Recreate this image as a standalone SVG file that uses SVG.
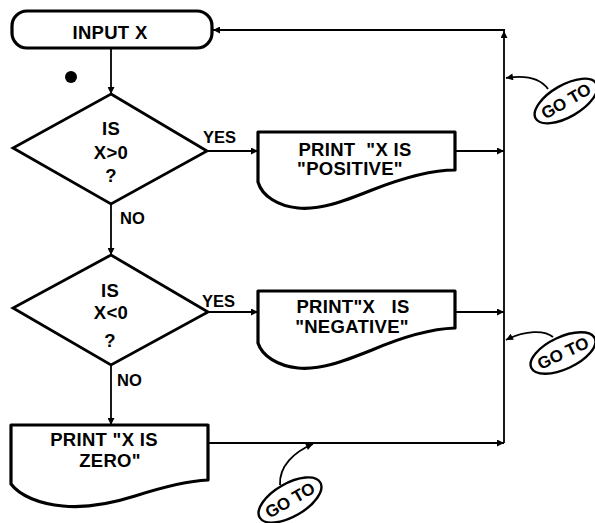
<svg xmlns="http://www.w3.org/2000/svg" width="595" height="523" viewBox="0 0 595 523">
<style>
  .shape { fill: none; stroke: #000; stroke-width: 3.2; stroke-linejoin: round; }
  .dia { fill: none; stroke: #000; stroke-width: 2.8; stroke-linejoin: miter; }
  .conn { fill: none; stroke: #000; stroke-width: 1.8; }
  .oval { fill: none; stroke: #000; stroke-width: 2.4; }
  .t { font-family: "Liberation Sans", Arial, sans-serif; font-weight: bold; font-size: 18.5px; fill: #000; text-anchor: middle; letter-spacing: 0.3px; }
  .lbl { font-family: "Liberation Sans", Arial, sans-serif; font-weight: bold; font-size: 16.5px; fill: #000; }
  .go { font-family: "Liberation Sans", Arial, sans-serif; font-weight: bold; font-size: 17px; fill: #000; text-anchor: middle; }
</style>
<defs>
  <marker id="ah" viewBox="0 0 10 10" refX="10" refY="5" markerUnits="userSpaceOnUse" markerWidth="11" markerHeight="7" orient="auto">
    <path d="M0,0 L10,5 L0,10 z" fill="#000"/>
  </marker>
</defs>
<rect width="595" height="523" fill="#fff"/>

<g id="connectors">
  <line class="conn" x1="111" y1="48" x2="111" y2="94" marker-end="url(#ah)"/>
  <line class="conn" x1="207" y1="151" x2="258" y2="151" marker-end="url(#ah)"/>
  <line class="conn" x1="111" y1="204" x2="111" y2="255" marker-end="url(#ah)"/>
  <line class="conn" x1="208" y1="312" x2="258" y2="312" marker-end="url(#ah)"/>
  <line class="conn" x1="111" y1="365" x2="111" y2="425" marker-end="url(#ah)"/>
  <line class="conn" x1="455" y1="151" x2="504" y2="151" marker-end="url(#ah)"/>
  <line class="conn" x1="455" y1="312" x2="504" y2="312" marker-end="url(#ah)"/>
  <line class="conn" x1="208" y1="443" x2="504" y2="443" marker-end="url(#ah)"/>
  <line class="conn" x1="504" y1="443" x2="504" y2="31" marker-end="url(#ah)"/>
  <line class="conn" x1="505" y1="30" x2="213" y2="30" marker-end="url(#ah)"/>
  <path class="conn" d="M548,89 C540,78 525,75 506,78" marker-end="url(#ah)"/>
  <path class="conn" d="M553,337 C545,330 525,330 506,340" marker-end="url(#ah)"/>
  <path class="conn" d="M280,485 C279,466 294,452 313,444" marker-end="url(#ah)"/>
  <text class="lbl" x="203" y="143">YES</text>
  <text class="lbl" x="120" y="224">NO</text>
  <text class="lbl" x="202" y="307">YES</text>
  <text class="lbl" x="117" y="386">NO</text>
</g>

<g id="input">
  <rect class="shape" x="12" y="11" width="200" height="37" rx="15" ry="15"/>
  <text class="t" x="110" y="38.5">INPUT X</text>
</g>

<circle cx="71" cy="77" r="6" fill="#000"/>

<g id="decision1">
  <polygon class="dia" points="111,94 207,151 111,204 13,148"/>
  <text class="t" x="111" y="135">IS</text>
  <text class="t" x="111" y="159" letter-spacing="1.5">X&gt;0</text>
  <text class="t" x="111" y="182">?</text>
</g>

<g id="print-positive">
  <path class="shape" d="M258,132 H455 V170 C428,170 400,179 372,190 C342,202 320,210 298,208 C278,206 262,196 258,182 Z"/>
  <text class="t" x="355" y="156" xml:space="preserve">PRINT  "X IS</text>
  <text class="t" x="350" y="175">"POSITIVE"</text>
</g>

<g id="decision2">
  <polygon class="dia" points="111,255 208,312 111,365 13,308"/>
  <text class="t" x="110" y="297">IS</text>
  <text class="t" x="111" y="319" letter-spacing="1.5">X&lt;0</text>
  <text class="t" x="110" y="347">?</text>
</g>

<g id="print-negative">
  <path class="shape" d="M258,291 H455 V328 C428,329 400,338 372,350 C342,362 320,370 298,368 C278,366 262,356 258,343 Z"/>
  <text class="t" x="353" y="313" xml:space="preserve">PRINT"X   IS</text>
  <text class="t" x="352" y="333">"NEGATIVE"</text>
</g>

<g id="print-zero">
  <path class="shape" d="M11,425 H208 V480 C185,481 160,488 135,496 C110,504 85,508 63,506 C40,504 20,496 11,484 Z"/>
  <text class="t" x="104" y="446">PRINT "X IS</text>
  <text class="t" x="110" y="467">ZERO"</text>
</g>

<g id="goto1">
  <ellipse class="oval" cx="566" cy="101" rx="35" ry="16" transform="rotate(-30 566 101)"/>
  <text class="go" x="566" y="107" transform="rotate(-30 566 101)">GO TO</text>
</g>
<g id="goto2">
  <ellipse class="oval" cx="563" cy="353" rx="35" ry="16" transform="rotate(-25 563 353)"/>
  <text class="go" x="563" y="359" transform="rotate(-25 563 353)">GO TO</text>
</g>
<g id="goto3">
  <ellipse class="oval" cx="290" cy="500" rx="35" ry="16.5" transform="rotate(-30 290 500)"/>
  <text class="go" x="290" y="506" transform="rotate(-30 290 500)">GO TO</text>
</g>
</svg>
